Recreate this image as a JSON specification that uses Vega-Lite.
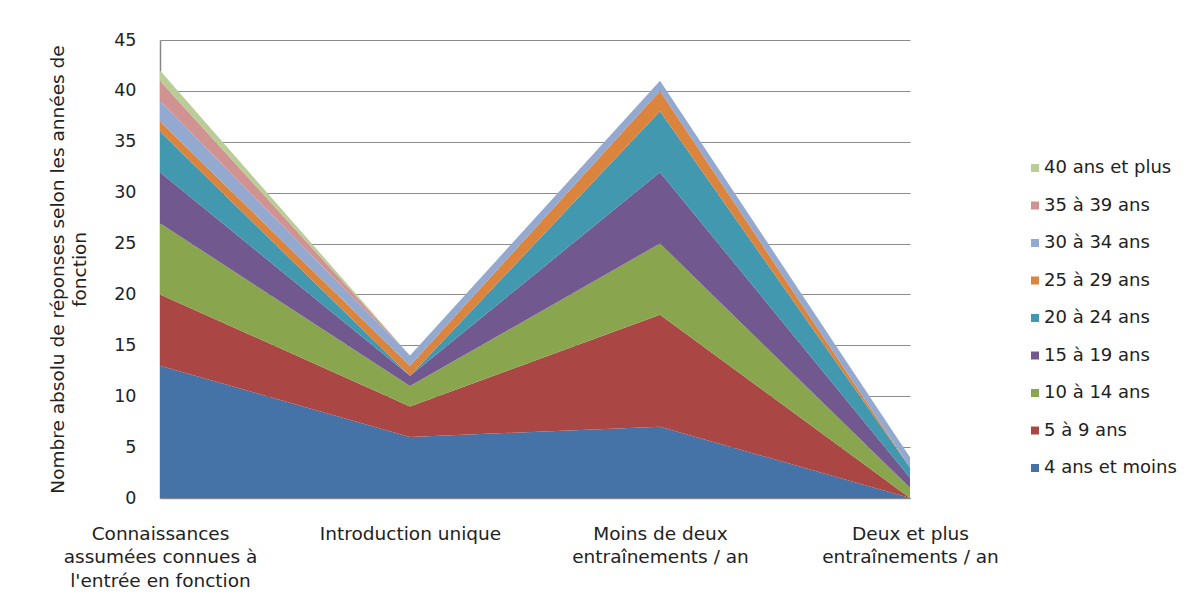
{
  "$schema": "https://vega.github.io/schema/vega-lite/v6.json",
  "autosize": {"type": "none"},
  "width": 750,
  "height": 458,
  "padding": {"left": 160, "top": 40, "right": 288, "bottom": 118},
  "background": "white",
  "config": {
    "font": "DejaVu Sans",
    "view": {"stroke": null},
    "axis": {"labelFont": "DejaVu Sans", "titleFont": "DejaVu Sans", "labelColor": "#222", "titleColor": "#222"},
    "legend": {"labelFont": "DejaVu Sans", "labelColor": "#222"}
  },
  "data": {
    "values": [
      {"categorie": "Connaissances assumées connues à l'entrée en fonction", "anciennete": "4 ans et moins", "rang": 1, "reponses": 13},
      {"categorie": "Connaissances assumées connues à l'entrée en fonction", "anciennete": "5 à 9 ans", "rang": 2, "reponses": 7},
      {"categorie": "Connaissances assumées connues à l'entrée en fonction", "anciennete": "10 à 14 ans", "rang": 3, "reponses": 7},
      {"categorie": "Connaissances assumées connues à l'entrée en fonction", "anciennete": "15 à 19 ans", "rang": 4, "reponses": 5},
      {"categorie": "Connaissances assumées connues à l'entrée en fonction", "anciennete": "20 à 24 ans", "rang": 5, "reponses": 4},
      {"categorie": "Connaissances assumées connues à l'entrée en fonction", "anciennete": "25 à 29 ans", "rang": 6, "reponses": 1},
      {"categorie": "Connaissances assumées connues à l'entrée en fonction", "anciennete": "30 à 34 ans", "rang": 7, "reponses": 2},
      {"categorie": "Connaissances assumées connues à l'entrée en fonction", "anciennete": "35 à 39 ans", "rang": 8, "reponses": 2},
      {"categorie": "Connaissances assumées connues à l'entrée en fonction", "anciennete": "40 ans et plus", "rang": 9, "reponses": 1},
      {"categorie": "Introduction unique", "anciennete": "4 ans et moins", "rang": 1, "reponses": 6},
      {"categorie": "Introduction unique", "anciennete": "5 à 9 ans", "rang": 2, "reponses": 3},
      {"categorie": "Introduction unique", "anciennete": "10 à 14 ans", "rang": 3, "reponses": 2},
      {"categorie": "Introduction unique", "anciennete": "15 à 19 ans", "rang": 4, "reponses": 1},
      {"categorie": "Introduction unique", "anciennete": "20 à 24 ans", "rang": 5, "reponses": 0},
      {"categorie": "Introduction unique", "anciennete": "25 à 29 ans", "rang": 6, "reponses": 1},
      {"categorie": "Introduction unique", "anciennete": "30 à 34 ans", "rang": 7, "reponses": 1},
      {"categorie": "Introduction unique", "anciennete": "35 à 39 ans", "rang": 8, "reponses": 0},
      {"categorie": "Introduction unique", "anciennete": "40 ans et plus", "rang": 9, "reponses": 0},
      {"categorie": "Moins de deux entraînements / an", "anciennete": "4 ans et moins", "rang": 1, "reponses": 7},
      {"categorie": "Moins de deux entraînements / an", "anciennete": "5 à 9 ans", "rang": 2, "reponses": 11},
      {"categorie": "Moins de deux entraînements / an", "anciennete": "10 à 14 ans", "rang": 3, "reponses": 7},
      {"categorie": "Moins de deux entraînements / an", "anciennete": "15 à 19 ans", "rang": 4, "reponses": 7},
      {"categorie": "Moins de deux entraînements / an", "anciennete": "20 à 24 ans", "rang": 5, "reponses": 6},
      {"categorie": "Moins de deux entraînements / an", "anciennete": "25 à 29 ans", "rang": 6, "reponses": 2},
      {"categorie": "Moins de deux entraînements / an", "anciennete": "30 à 34 ans", "rang": 7, "reponses": 1},
      {"categorie": "Moins de deux entraînements / an", "anciennete": "35 à 39 ans", "rang": 8, "reponses": 0},
      {"categorie": "Moins de deux entraînements / an", "anciennete": "40 ans et plus", "rang": 9, "reponses": 0},
      {"categorie": "Deux et plus entraînements / an", "anciennete": "4 ans et moins", "rang": 1, "reponses": 0},
      {"categorie": "Deux et plus entraînements / an", "anciennete": "5 à 9 ans", "rang": 2, "reponses": 0},
      {"categorie": "Deux et plus entraînements / an", "anciennete": "10 à 14 ans", "rang": 3, "reponses": 1},
      {"categorie": "Deux et plus entraînements / an", "anciennete": "15 à 19 ans", "rang": 4, "reponses": 1},
      {"categorie": "Deux et plus entraînements / an", "anciennete": "20 à 24 ans", "rang": 5, "reponses": 1},
      {"categorie": "Deux et plus entraînements / an", "anciennete": "25 à 29 ans", "rang": 6, "reponses": 0},
      {"categorie": "Deux et plus entraînements / an", "anciennete": "30 à 34 ans", "rang": 7, "reponses": 1},
      {"categorie": "Deux et plus entraînements / an", "anciennete": "35 à 39 ans", "rang": 8, "reponses": 0},
      {"categorie": "Deux et plus entraînements / an", "anciennete": "40 ans et plus", "rang": 9, "reponses": 0}
    ]
  },
  "mark": {"type": "area", "interpolate": "linear", "opacity": 1},
  "encoding": {
    "x": {
      "field": "categorie",
      "type": "nominal",
      "sort": ["Connaissances assumées connues à l'entrée en fonction", "Introduction unique", "Moins de deux entraînements / an", "Deux et plus entraînements / an"],
      "scale": {"type": "point", "padding": 0},
      "axis": {
        "title": null,
        "labelAngle": 0,
        "labelFontSize": 18.5,
        "labelLineHeight": 23.5,
        "labelPadding": 26,
        "labelBaseline": "top",
        "labelAlign": "center",
        "labelLimit": 400,
        "labelOverlap": false,
        "ticks": false,
        "domainColor": "#888888",
        "domainWidth": 1.5,
        "grid": false,
        "labelExpr": "indexof(datum.value,'Connaissances') == 0 ? ['Connaissances', 'assumées connues à', \"l'entrée en fonction\"] : indexof(datum.value,'Introduction') == 0 ? 'Introduction unique' : indexof(datum.value,'Moins') == 0 ? ['Moins de deux', 'entraînements / an'] : ['Deux et plus', 'entraînements / an']"
      }
    },
    "y": {
      "field": "reponses",
      "type": "quantitative",
      "stack": "zero",
      "scale": {"domain": [0, 45], "nice": false},
      "axis": {
        "title": ["Nombre absolu de réponses selon les années de", "fonction"],
        "titleFontSize": 18.5,
        "titleFontWeight": "normal",
        "titleLineHeight": 22,
        "titlePadding": 24,
        "titleLimit": 600,
        "values": [0, 5, 10, 15, 20, 25, 30, 35, 40, 45],
        "labelFontSize": 17.5,
        "labelPadding": 24,
        "ticks": false,
        "domainColor": "#888888",
        "domainWidth": 1.5,
        "gridColor": "#8c8c8c",
        "gridWidth": 1
      }
    },
    "order": {"field": "rang", "type": "quantitative", "sort": "ascending"},
    "color": {
      "field": "anciennete",
      "type": "nominal",
      "sort": ["40 ans et plus", "35 à 39 ans", "30 à 34 ans", "25 à 29 ans", "20 à 24 ans", "15 à 19 ans", "10 à 14 ans", "5 à 9 ans", "4 ans et moins"],
      "scale": {
        "domain": ["40 ans et plus", "35 à 39 ans", "30 à 34 ans", "25 à 29 ans", "20 à 24 ans", "15 à 19 ans", "10 à 14 ans", "5 à 9 ans", "4 ans et moins"],
        "range": ["#B9CD96", "#D19392", "#93A9CF", "#DB843D", "#4198AF", "#71588F", "#89A54E", "#AA4643", "#4572A7"]
      },
      "legend": {
        "title": null,
        "orient": "none",
        "legendX": 866,
        "legendY": 119,
        "symbolType": "square",
        "symbolSize": 64,
        "symbolStrokeWidth": 0,
        "labelFontSize": 18,
        "labelOffset": 0,
        "labelLimit": 300,
        "rowPadding": 19.5
      }
    }
  }
}
